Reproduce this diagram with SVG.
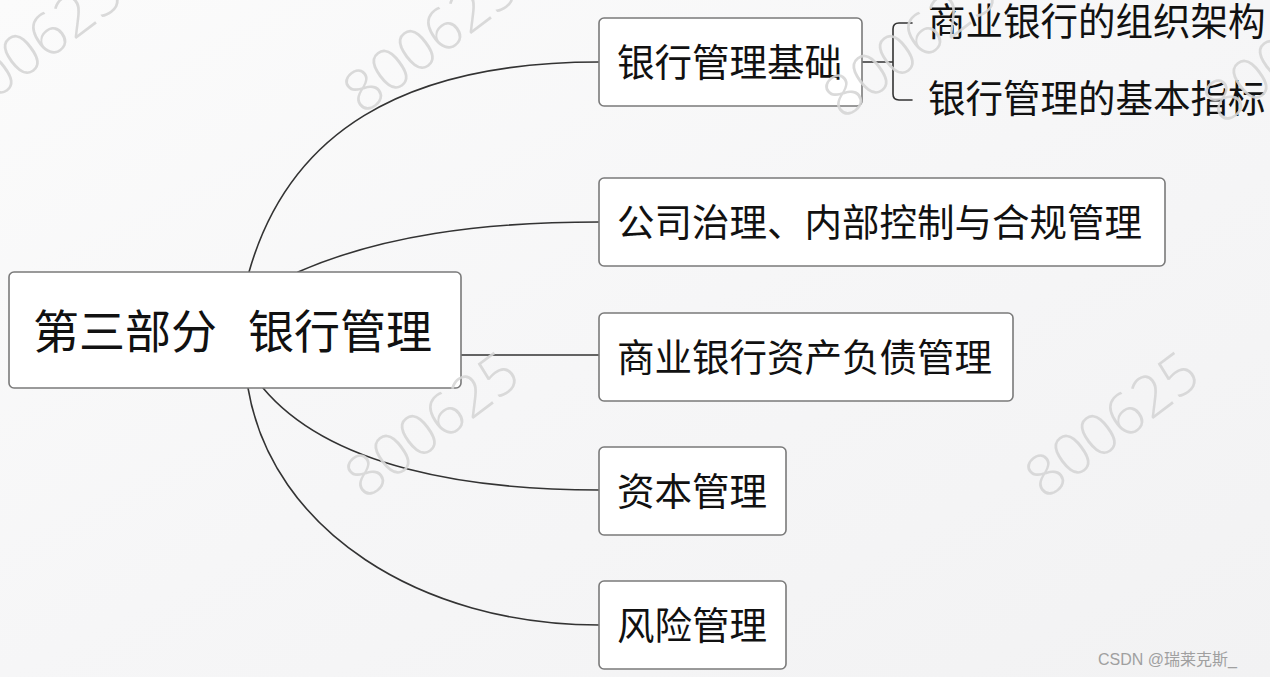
<svg xmlns="http://www.w3.org/2000/svg" width="1270" height="677" viewBox="0 0 1270 677">
  <defs>
    <style>
      .box { fill: #ffffff; stroke: #7a7a7a; stroke-width: 1.6; }
      .lbl { font-family: "Noto Sans CJK SC", "Noto Sans", sans-serif; fill: #111111; }
      .conn { fill: none; stroke: #333333; stroke-width: 1.6; stroke-linecap: round; }
      .wm { font-family: "Open Sans", "Liberation Sans", sans-serif; font-size: 58px; font-weight: 300; fill: #d6d6d6; opacity: 0.9; }
    </style>
    <linearGradient id="bg" x1="0" y1="0" x2="1" y2="1">
      <stop offset="0" stop-color="#fbfbfb"/>
      <stop offset="0.5" stop-color="#f6f6f7"/>
      <stop offset="1" stop-color="#f2f2f3"/>
    </linearGradient>
  </defs>
  <rect x="0" y="0" width="1270" height="677" fill="url(#bg)"/>

  <g id="connectors">
    <path class="conn" d="M249,272 C288,135 400,62 599,62"/>
    <path class="conn" d="M298,272 C380,236 480,222 599,222"/>
    <path class="conn" d="M461,355 L599,355"/>
    <path class="conn" d="M263,388 C330,468 470,490 599,490"/>
    <path class="conn" d="M248,388 C272,530 420,625 599,625"/>
    <path class="conn" d="M862,62 L893,62 M912,23 L899,23 Q893,23 893,29 L893,94 Q893,100 899,100 L912,100"/>
  </g>

  <g id="root">
    <rect class="box" x="9" y="272" width="452" height="116" rx="5"/>
    <text class="lbl" font-size="46" y="348"><tspan x="33">第三部分</tspan><tspan x="248">银行管理</tspan></text>
  </g>

  <g id="n1">
    <rect class="box" x="599" y="18" width="263" height="88" rx="5"/>
    <text class="lbl" font-size="37.5" x="617" y="76">银行管理基础</text>
  </g>
  <g id="n1a">
    <text class="lbl" font-size="37.5" x="928" y="35">商业银行的组织架构</text>
  </g>
  <g id="n1b">
    <text class="lbl" font-size="37.5" x="928" y="112">银行管理的基本指标</text>
  </g>

  <g id="n2">
    <rect class="box" x="599" y="178" width="566" height="88" rx="5"/>
    <text class="lbl" font-size="37.5" x="617" y="236">公司治理、内部控制与合规管理</text>
  </g>

  <g id="n3">
    <rect class="box" x="599" y="313" width="414" height="88" rx="5"/>
    <text class="lbl" font-size="37.5" x="617" y="371">商业银行资产负债管理</text>
  </g>

  <g id="n4">
    <rect class="box" x="599" y="447" width="187" height="88" rx="5"/>
    <text class="lbl" font-size="37.5" x="617" y="505">资本管理</text>
  </g>

  <g id="n5">
    <rect class="box" x="599" y="581" width="187" height="88" rx="5"/>
    <text class="lbl" font-size="37.5" x="617" y="639">风险管理</text>
  </g>

  <g id="watermarks">
    <text class="wm" text-anchor="middle" transform="translate(35,45) rotate(-37)" dy="20">800625</text>
    <text class="wm" text-anchor="middle" transform="translate(430,40) rotate(-37)" dy="20">800625</text>
    <text class="wm" text-anchor="middle" transform="translate(910,45) rotate(-37)" dy="20">800625</text>
    <text class="wm" text-anchor="middle" transform="translate(1290,50) rotate(-37)" dy="20">800625</text>
    <text class="wm" text-anchor="middle" transform="translate(432,425) rotate(-37)" dy="20">800625</text>
    <text class="wm" text-anchor="middle" transform="translate(1112,425) rotate(-37)" dy="20">800625</text>
  </g>

  <text x="1098" y="665" font-family="Liberation Sans, 'Noto Sans CJK SC', sans-serif" font-size="16" fill="#a0a0a0">CSDN @瑞莱克斯_</text>
</svg>
